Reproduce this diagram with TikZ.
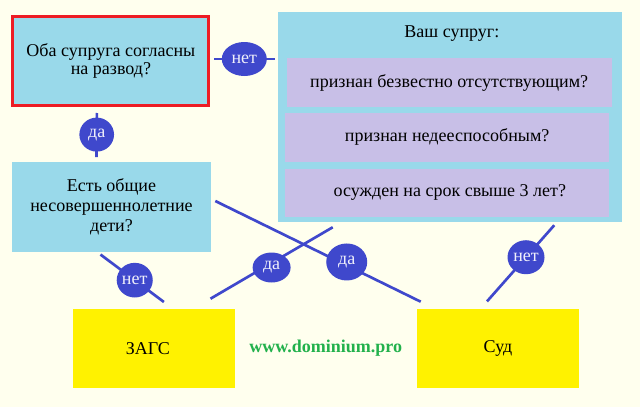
\documentclass[tikz,border=0pt]{standalone}
\usepackage{fontspec}
\setmainfont{Liberation Serif}
\usepackage{xcolor}
\usetikzlibrary{calc,positioning,shapes.geometric}
\definecolor{paper}{RGB}{255,255,238}
\definecolor{skyblue}{RGB}{153,217,234}
\definecolor{lavender}{RGB}{200,191,231}
\definecolor{linkblue}{RGB}{63,72,204}
\definecolor{officeyellow}{RGB}{255,242,0}
\definecolor{framered}{RGB}{237,28,36}
\definecolor{sitegreen}{RGB}{34,177,76}

\begin{document}
\begin{tikzpicture}[
    x=0.75pt, y=-0.75pt,
    node distance=4pt,
    question/.style={
      rectangle,
      fill=skyblue,
      inner sep=0pt,
      align=center,
      font=\fontsize{13.5}{13.5}\selectfont
    },
    option/.style={
      rectangle,
      fill=lavender,
      inner sep=0pt,
      minimum width=243pt,
      minimum height=36.5pt,
      font=\fontsize{13.5}{15}\selectfont
    },
    office/.style={
      rectangle,
      fill=officeyellow,
      inner sep=0pt,
      minimum width=122pt,
      minimum height=59pt,
      font=\fontsize{13.5}{15}\selectfont
    },
    answer/.style={
      ellipse,
      fill=linkblue,
      text=white!92!linkblue,
      inner sep=0pt,
      minimum width=27pt,
      minimum height=25.5pt,
      font=\fontsize{13.5}{15}\selectfont
    },
    link/.style={draw=linkblue, line width=2pt}
  ]
    \fill[paper] (0,0) rectangle (640,407);
    \useasboundingbox (0,0) rectangle (640,407);

    \node[question, draw=framered, line width=2.25pt, minimum width=147pt, minimum height=66.75pt]
      (agree) at (110.9,61) {Оба супруга согласны\\на развод?};
    \node[question, minimum width=258.2pt, minimum height=157pt] (spouse) at (449.85,117) {};
    \node (spousehead) at ($(spouse.north)+(2,21)$) {\fontsize{13.5}{15}\selectfont Ваш супруг:};
    \node[option, minimum width=243.75pt, minimum height=36.75pt] (missing) at (449.2,82.8) {признан безвестно отсутствующим?};
    \node[option, below=3.75pt of missing, xshift=-1.5pt] (incapable) {признан недееспособным?};
    \node[option, below=5pt of incapable, minimum height=36pt] (convicted) {\hspace{4pt}осужден на срок свыше 3 лет?};
    \node[question, font=\fontsize{13.5}{15.2}\selectfont, minimum width=149.25pt, minimum height=67pt]
      (children) at (111.5,207) {Есть общие\\несовершеннолетние\\дети?};

    \node[office] (registry) at (153.9,348.3) {\hspace{-9pt}ЗАГС};
    \node[office] (court) at (498,348.3) {Суд};
    \node[text=sitegreen, font=\fontsize{13.5}{15}\selectfont\bfseries] (site) at (325.7,348) {www.dominium.pro};

    \draw[link] ($(agree.east)+(4,-2)$) -- node[answer, pos=0.49, minimum width=33.75pt] (no1) {нет}
      ($(agree.east -| spouse.west)+(-2,-2)$);
    \draw[link] ($(agree.south)+(-14,6)$) -- node[answer, pos=0.49, minimum width=26pt] (yes1) {да}
      ($(children.north)+(-15,-5)$);
    \draw[link] ($(children.south)+(-11,2.6)$) -- node[answer, pos=0.54, minimum height=26pt] (no2) {нет}
      ($(registry.north)+(10,-6.7)$);
    \draw[link] ($(spouse.south west)+(55.3,5.3)$) -- node[answer, pos=0.5, yshift=-3.4pt, minimum width=28.5pt, minimum height=22.5pt] (yes2) {да}
      ($(registry.north east)+(-25,-10)$);
    \draw[link] ($(children.east)+(4,-6)$) -- node[answer, pos=0.64, yshift=2.6pt, minimum width=30.75pt, minimum height=27.75pt] (yes3) {да}
      ($(court.north west)+(4.3,-7)$);
    \draw[link] ($(spouse.south east)+(-68,3.3)$) -- node[answer, pos=0.42, minimum width=27.75pt] (no3) {нет}
      ($(court.north)+(-11,-7.3)$);
  \end{tikzpicture}
\end{document}
